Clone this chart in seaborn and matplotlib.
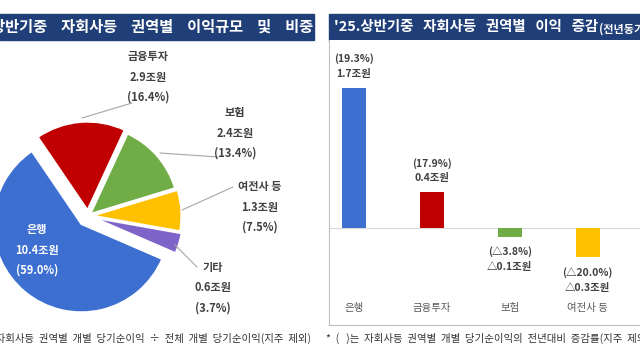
import matplotlib
matplotlib.use('Agg')
import matplotlib.pyplot as plt
import seaborn as sns

# 권역별 이익규모 및 비중 ('25 상반기)
sectors = ['은행', '금융투자', '보험', '여전사 등', '기타']
profit_label = ['10.4조원', '2.9조원', '2.4조원', '1.3조원', '0.6조원']
share = [59.0, 16.4, 13.4, 7.5, 3.7]
colors = ['#3D6FD1', '#C00000', '#70AD47', '#FFC000', '#7E64C8']

# 권역별 이익 증감 (전년동기대비)
chg_sectors = ['은행', '금융투자', '보험', '여전사 등']
chg_value = [1.7, 0.43, -0.11, -0.36]
chg_label = ['1.7조원', '0.4조원', '△0.1조원', '△0.3조원']
chg_rate = ['(19.3%)', '(17.9%)', '(△3.8%)', '(△20.0%)']

# the original font spaces words far apart
title_left = '    '.join(["'25.상반기중", '자회사등', '권역별', '이익규모', '및', '비중'])
title_right = '   '.join(["'25.상반기중", '자회사등', '권역별', '이익', '증감'])
title_right_sub = "(전년동기대비)"
note_left = "*  자회사등  권역별  개별  당기순이익  ÷  전체  개별  당기순이익(지주  제외)"
note_right = "*  (   )는  자회사등  권역별  개별  당기순이익의  전년대비  증감률(지주  제외)"

sns.set_theme(style='white')
plt.rcParams['font.family'] = ['Noto Sans CJK KR', 'DejaVu Sans']

W, H = 640, 360
navy = '#203F78'
box = '#BFBFBF'
txt = '#404040'

fig = plt.figure(figsize=(6.4, 3.6), dpi=100)


def px_rect(x0, y0, x1, y1):
    return [x0 / W, 1 - y1 / H, (x1 - x0) / W, (y1 - y0) / H]


# ---- title bars
fig.add_artist(plt.Rectangle((0, 1 - 40 / H), 314 / W, 26 / H,
                             transform=fig.transFigure, color=navy, zorder=0))
fig.add_artist(plt.Rectangle((329 / W, 1 - 41 / H), 311 / W, 27 / H,
                             transform=fig.transFigure, color=navy, zorder=0))
fig.text(313 / W, 1 - 27 / H, title_left, ha='right', va='center',
         color='white', fontsize=11, weight='bold')
t_right = fig.text(334 / W, 1 - 27.5 / H, title_right, ha='left', va='center',
                   color='white', fontsize=10.4, weight='bold')

# ---- pie panel
R, cx, cy = 88, 88, 216
ax = fig.add_axes(px_rect(0, 40, 316, 325))
ax.pie(share, colors=colors, startangle=336.6, counterclock=False,
       explode=[0.12, 0.07, 0.04, 0.06, 0.08],
       wedgeprops=dict(edgecolor='white', linewidth=1.2))
ax.set_aspect('auto')
ax.set_xlim((0 - cx) / R, (316 - cx) / R)
ax.set_ylim((cy - 325) / R, (cy - 40) / R)
ax.set_xticks([])
ax.set_yticks([])
for s in ['top', 'left']:
    ax.spines[s].set_visible(False)
for s in ['right', 'bottom']:
    ax.spines[s].set_color(box)
    ax.spines[s].set_linewidth(0.8)


def to_data(px, py):
    return (px - cx) / R, (cy - py) / R


label_pos = [(37, 250), (148, 77), (235, 133), (260, 207), (213, 288)]
leaders = [None, [(132, 103), (82, 118)], [(218, 157), (160, 153)],
           [(233, 187), (182, 210)], [(197, 267), (175, 245)]]
for i, name in enumerate(sectors):
    x, y = to_data(*label_pos[i])
    ax.text(x, y, f"{name}\n{profit_label[i]}\n({share[i]:.1f}%)",
            ha='center', va='center', fontsize=8, weight='bold',
            color='white' if i == 0 else txt, linespacing=1.75)
    if leaders[i]:
        (x0, y0), (x1, y1) = [to_data(*p) for p in leaders[i]]
        ax.plot([x0, x1], [y0, y1], color='#A6A6A6', lw=0.8)

# ---- bar panel
ax2 = fig.add_axes(px_rect(329, 40, 640, 325))
sns.barplot(x=chg_sectors, y=chg_value, hue=chg_sectors, palette=colors[:4],
            saturation=1, width=0.31, legend=False, linewidth=0, ax=ax2)
ax2.set_xlim(-0.32, 3.67)
ax2.set_ylim(-1.18, 2.28)
ax2.axhline(0, color='#D9D9D9', lw=0.8, zorder=0)
ax2.set_xticks([])
ax2.set_yticks([])
ax2.set_xlabel('')
ax2.set_ylabel('')
for s in ['top', 'right']:
    ax2.spines[s].set_visible(False)
for s in ['left', 'bottom']:
    ax2.spines[s].set_color(box)
    ax2.spines[s].set_linewidth(0.8)

for i, v in enumerate(chg_value):
    up = v >= 0
    ax2.annotate(f"{chg_rate[i]}\n{chg_label[i]}", xy=(i, v),
                 xytext=(0, 6.5 if up else -7), textcoords='offset points',
                 ha='center', va='bottom' if up else 'top', fontsize=7.5,
                 weight='bold', color=txt, linespacing=1.6)
    ax2.text(i, -0.97, chg_sectors[i], ha='center', va='center',
             fontsize=7.5, color='#595959')

ax2.annotate(title_right_sub, xy=(1, 0.42), xycoords=t_right,
             xytext=(0.5, 0), textcoords='offset points', ha='left', va='center',
             fontsize=8, weight='bold', color='white')

# ---- footnotes
fig.text(311 / W, 1 - 338 / H, note_left, ha='right', va='center',
         fontsize=7.5, color='#333333')
fig.text(326 / W, 1 - 338 / H, note_right, ha='left', va='center',
         fontsize=7.5, color='#333333')

fig.savefig('out.png', dpi=100)
